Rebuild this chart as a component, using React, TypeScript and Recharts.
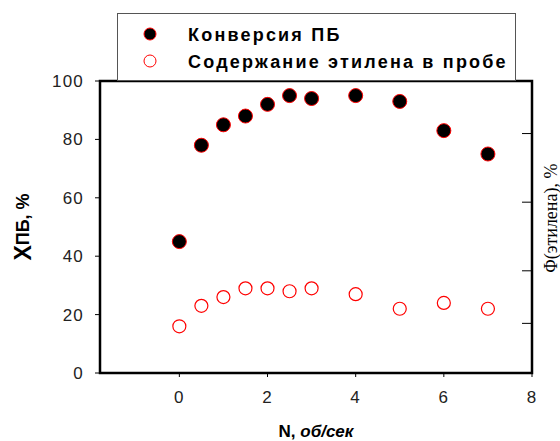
import {
  ScatterChart,
  Scatter,
  XAxis,
  YAxis,
  Legend,
  ReferenceArea,
} from "recharts";

const speeds = [0, 0.5, 1, 1.5, 2, 2.5, 3, 4, 5, 6, 7];
const conversion = [45, 78, 85, 88, 92, 95, 94, 95, 93, 83, 75];
const ethylene = [16, 23, 26, 29, 29, 28, 29, 27, 22, 24, 22];

const xTicks = [0, 2, 4, 6, 8];
const leftTicks = [0, 20, 40, 60, 80, 100];
const rightTicks = [17, 35, 58.5, 82];

const seriesNames = ["Конверсия ПБ", "Содержание этилена в пробе"];

const convData = speeds.map((n, i) => ({ n, v: conversion[i] }));
const ethData = speeds.map((n, i) => ({ n, v: ethylene[i] }));

const FilledDot = (props: any) => (
  <circle cx={props.cx} cy={props.cy} r={7} fill="#000" stroke="#ff0000" strokeWidth={1} />
);

const OpenDot = (props: any) => (
  <circle cx={props.cx} cy={props.cy} r={6.5} fill="#fff" stroke="#ff0000" strokeWidth={1.2} />
);

const legendContent = () => (
  <div
    style={{
      width: 399,
      height: 68,
      border: "1px solid #555",
      background: "#fff",
      boxSizing: "border-box",
      position: "relative",
    }}
  >
    <svg width={399} height={68} style={{ position: "absolute", left: 0, top: 0 }}>
      <circle cx={32} cy={20} r={6} fill="#000" stroke="#ff0000" />
      <circle cx={32} cy={47} r={6} fill="#fff" stroke="#ff0000" />
      <g
        fontFamily="Arial, 'Liberation Sans', sans-serif"
        fontWeight="bold"
        fontSize={18}
        letterSpacing={2.2}
        fill="#000"
      >
        <text x={70} y={27}>{seriesNames[0]}</text>
        <text x={70} y={54}>{seriesNames[1]}</text>
      </g>
    </svg>
  </div>
);

const tickStyle = {
  fontSize: 17,
  fill: "#222",
  letterSpacing: 1.2,
  fontFamily: "Arial, 'Liberation Sans', sans-serif",
};

const RightTick = (props: any) => (
  <line x1={props.x - 10} x2={props.x} y1={props.y} y2={props.y} stroke="#000" strokeWidth={1} />
);

export default function App() {
  return (
    <div style={{ position: "absolute", left: 0, top: 0 }}>
      <ScatterChart
        width={560}
        height={441}
        margin={{ top: 81, right: 0, bottom: 38, left: 40 }}
      >
        <XAxis
          type="number"
          dataKey="n"
          domain={[-1.8, 8]}
          ticks={xTicks}
          allowDataOverflow
          axisLine={false}
          tickLine={{ stroke: "#000" }}
          tickSize={4}
          tickMargin={14}
          tick={tickStyle}
          height={30}
          label={{
            content: () => (
              <text
                x={316}
                y={437}
                textAnchor="middle"
                fontFamily="Arial, 'Liberation Sans', sans-serif"
                fontWeight="bold"
                fontSize={17}
                fill="#000"
              >
                N, <tspan fontStyle="italic">об/сек</tspan>
              </text>
            ),
          }}
        />
        <YAxis
          yAxisId="left"
          type="number"
          dataKey="v"
          domain={[0, 100]}
          ticks={leftTicks}
          axisLine={false}
          tickLine={{ stroke: "#000" }}
          tickSize={5}
          tickMargin={11}
          tick={tickStyle}
          width={60}
          label={{
            content: () => (
              <text
                x={23}
                y={227}
                transform="rotate(-90 23 227)"
                textAnchor="middle"
                dominantBaseline="central"
                fontFamily="Arial, 'Liberation Sans', sans-serif"
                fontWeight="bold"
                fontSize={18}
                fill="#000"
              >
                <tspan fontSize={23}>X</tspan>ПБ, %
              </text>
            ),
          }}
        />
        <YAxis
          yAxisId="right"
          orientation="right"
          type="number"
          dataKey="v"
          domain={[0, 100]}
          ticks={rightTicks}
          axisLine={false}
          tickLine={false}
          tickSize={0}
          tickMargin={0}
          tick={RightTick}
          width={28}
          label={{
            content: () => (
              <text
                x={551}
                y={218}
                transform="rotate(-90 551 218)"
                textAnchor="middle"
                dominantBaseline="central"
                fontFamily="'Liberation Serif', 'Times New Roman', serif"
                fontSize={18}
                fill="#000"
              >
                Φ(этилена), %
              </text>
            ),
          }}
        />
        <ReferenceArea
          yAxisId="left"
          x1={-1.8}
          x2={8}
          y1={0}
          y2={100}
          fill="none"
          stroke="#000"
          strokeWidth={2.5}
          ifOverflow="visible"
        />
        <Scatter
          name={seriesNames[0]}
          yAxisId="left"
          data={convData}
          shape={FilledDot}
          isAnimationActive={false}
        />
        <Scatter
          name={seriesNames[1]}
          yAxisId="right"
          data={ethData}
          shape={OpenDot}
          isAnimationActive={false}
        />
        <Legend
          layout="vertical"
          align="center"
          verticalAlign="middle"
          content={legendContent}
          wrapperStyle={{ left: 117, top: 13, width: 399, height: 68 }}
        />
      </ScatterChart>
    </div>
  );
}
